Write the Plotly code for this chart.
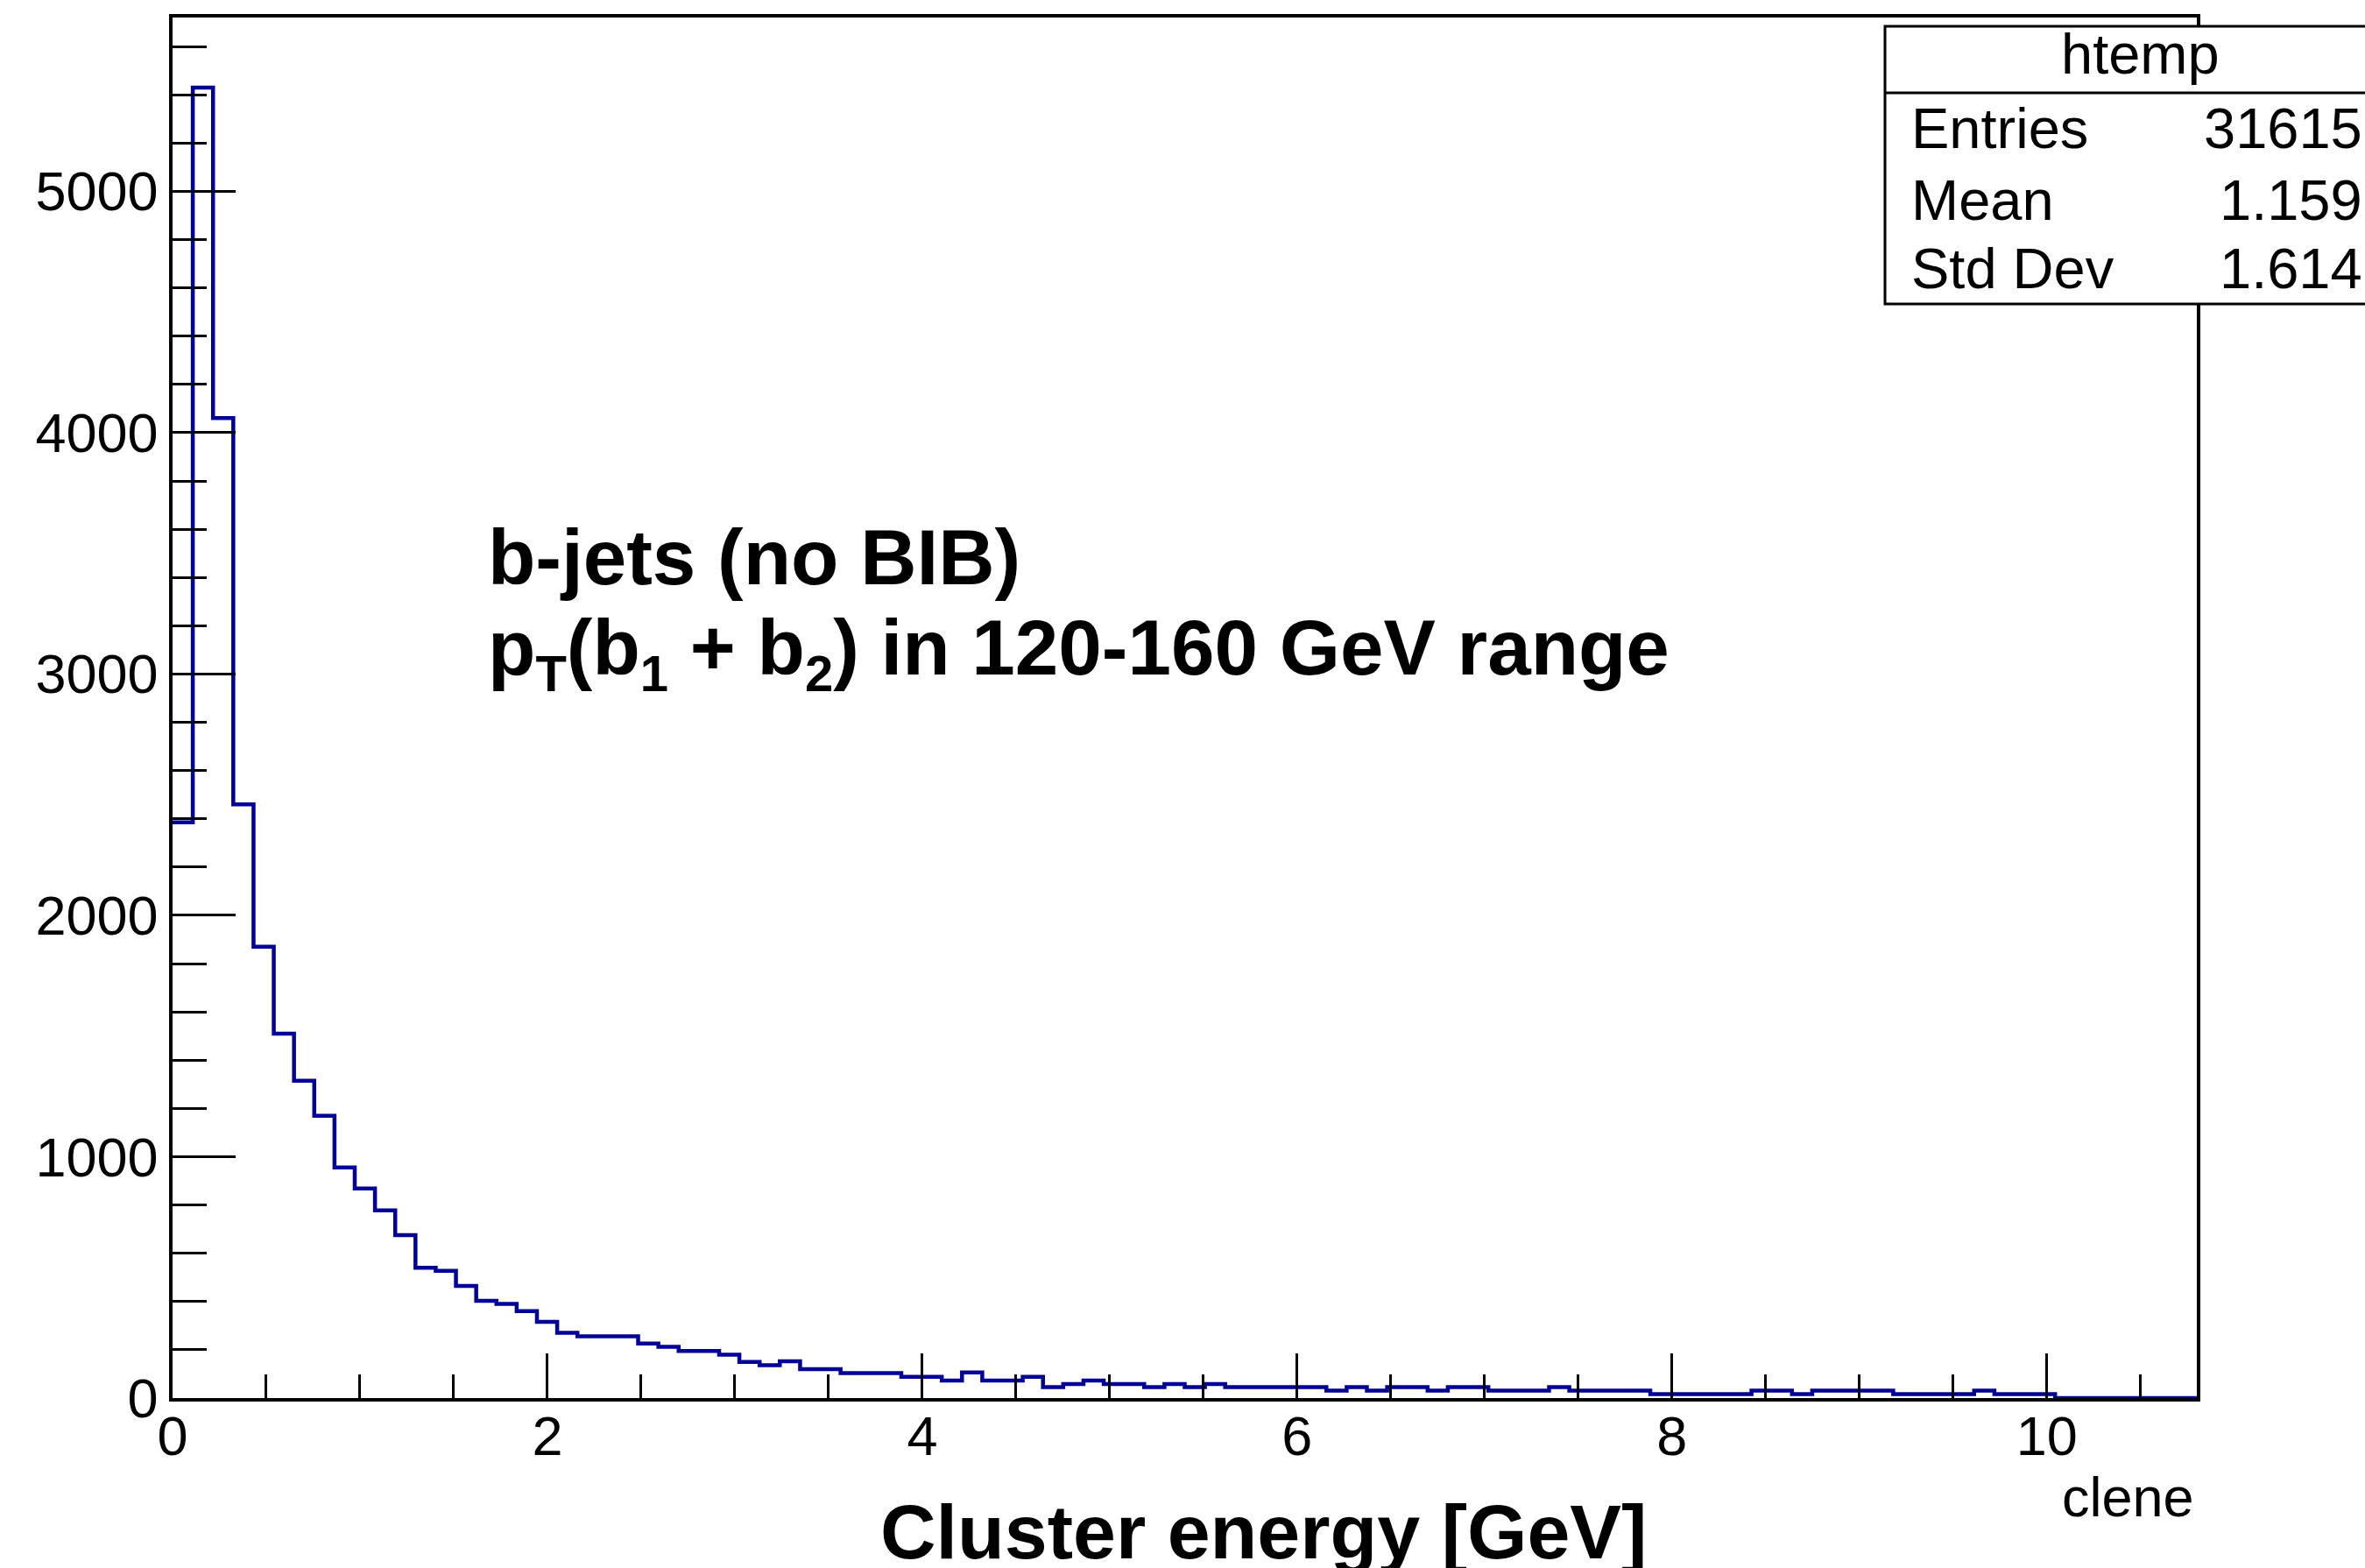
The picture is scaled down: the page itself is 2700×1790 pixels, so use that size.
import numpy as np
import plotly.graph_objects as go

# ---------------- data ----------------
x_min = 0.0
x_max = 10.8
n_bins = 100

counts = [
    2385, 5430, 4060, 2460, 1870, 1510, 1315, 1170, 955, 868,
    778, 675, 540, 527, 465, 403, 390, 360, 316, 270,
    256, 256, 256, 226, 212, 195, 195, 180, 150, 136,
    152, 120, 120, 103, 103, 103, 88, 88, 73, 106,
    73, 73, 88, 45, 58, 73, 58, 58, 45, 58,
    45, 58, 45, 45, 45, 45, 45, 31, 45, 31,
    45, 45, 31, 45, 45, 31, 31, 31, 45, 31,
    31, 31, 31, 16, 16, 16, 16, 16, 31, 31,
    16, 31, 31, 31, 31, 16, 16, 16, 16, 31,
    16, 16, 16, 0, 0, 0, 0, 0, 0, 0,
]

stats_title = "htemp"
stats_labels = ["Entries", "Mean", "Std Dev"]
stats_values = ["31615", "1.159", "1.614"]

x_title = "clene"
main_x_title = "Cluster energy [GeV]"
note_line1 = "b-jets (no BIB)"
note_line2 = ("p<sub><span style='font-size:58px'>T</span></sub>(b<sub><span style='font-size:58px'>1</span></sub>"
              " + b<sub><span style='font-size:58px'>2</span></sub>) in 120-160 GeV range")

y_max = 5720

# ---------------- layout geometry ----------------
W, H = 2700, 1790
L, R, T, B = 197, 192, 20, 194
FONT = "Liberation Sans, Arial, Helvetica, sans-serif"


def px_x(p):
    return (p - L) / (W - L - R)


def px_y(p):
    return (H - B - p) / (H - T - B)


edges = np.linspace(x_min, x_max, n_bins + 1)
step_x = list(edges)
step_y = list(counts) + [counts[-1]]

fig = go.Figure()
fig.add_trace(go.Scatter(
    x=step_x, y=step_y, mode="lines",
    line=dict(color="#000099", width=4.5, shape="hv"),
    hoverinfo="skip", showlegend=False,
))

fig.update_layout(
    width=W, height=H,
    margin=dict(l=L, r=R, t=T, b=B, pad=0),
    paper_bgcolor="white", plot_bgcolor="white",
    font=dict(family=FONT, color="black"),
    showlegend=False,
)

fig.update_xaxes(
    range=[x_min, x_max], showgrid=False, zeroline=False,
    showline=True, mirror=True, linecolor="black", linewidth=3.5,
    ticks="inside", ticklen=51, tickwidth=3, tickcolor="black",
    dtick=2, tick0=0,
    minor=dict(ticks="inside", ticklen=27, tickwidth=3, tickcolor="black", dtick=0.5, showgrid=False),
    tickfont=dict(size=63, family=FONT, color="black"),
    ticklabelstandoff=-14,
)
fig.update_yaxes(
    range=[0, y_max], showgrid=False, zeroline=False,
    showline=True, mirror=True, linecolor="black", linewidth=3.5,
    ticks="inside", ticklen=72, tickwidth=3, tickcolor="black",
    dtick=1000, tick0=0,
    minor=dict(ticks="inside", ticklen=39, tickwidth=3, tickcolor="black", dtick=200, showgrid=False),
    tickfont=dict(size=63, family=FONT, color="black"),
    ticklabelstandoff=0,
)

shapes = []
# stats box
shapes.append(dict(
    type="rect", xref="paper", yref="paper",
    x0=px_x(2152), x1=px_x(2720), y0=px_y(347), y1=px_y(30),
    line=dict(color="black", width=3), fillcolor="white", layer="above",
))
shapes.append(dict(
    type="line", xref="paper", yref="paper",
    x0=px_x(2152), x1=px_x(2720), y0=px_y(106), y1=px_y(106),
    line=dict(color="black", width=3), layer="above",
))
fig.update_layout(shapes=shapes)

ann = []
ann.append(dict(
    text=stats_title, xref="paper", yref="paper",
    x=px_x(2443), y=px_y(62), xanchor="center", yanchor="middle",
    showarrow=False, font=dict(size=65, family=FONT, color="black"),
))
row_y = [146, 229, 307]
for lab, val, yy in zip(stats_labels, stats_values, row_y):
    ann.append(dict(
        text=lab, xref="paper", yref="paper",
        x=px_x(2180), y=px_y(yy), xanchor="left", yanchor="middle",
        showarrow=False, font=dict(size=65, family=FONT, color="black"),
    ))
    ann.append(dict(
        text=val, xref="paper", yref="paper",
        x=px_x(2699), y=px_y(yy), xanchor="right", yanchor="middle",
        showarrow=False, font=dict(size=65, family=FONT, color="black"),
    ))

ann.append(dict(
    text=note_line1, xref="paper", yref="paper",
    x=px_x(555), y=px_y(636), xanchor="left", yanchor="middle",
    showarrow=False, font=dict(size=89, family=FONT, color="black", weight="bold"),
))
ann.append(dict(
    text=note_line2, xref="paper", yref="paper",
    x=px_x(555), y=px_y(745), xanchor="left", yanchor="middle",
    showarrow=False, font=dict(size=89, family=FONT, color="black", weight="bold"),
))
ann.append(dict(
    text=x_title, xref="paper", yref="paper",
    x=px_x(2507), y=px_y(1709), xanchor="right", yanchor="middle",
    showarrow=False, font=dict(size=63, family=FONT, color="black"),
))
ann.append(dict(
    text=main_x_title, xref="paper", yref="paper",
    x=px_x(1442), y=px_y(1748), xanchor="center", yanchor="middle",
    showarrow=False, font=dict(size=88, family=FONT, color="black", weight="bold"),
))
fig.update_layout(annotations=ann)

fig.write_html("out.html")
